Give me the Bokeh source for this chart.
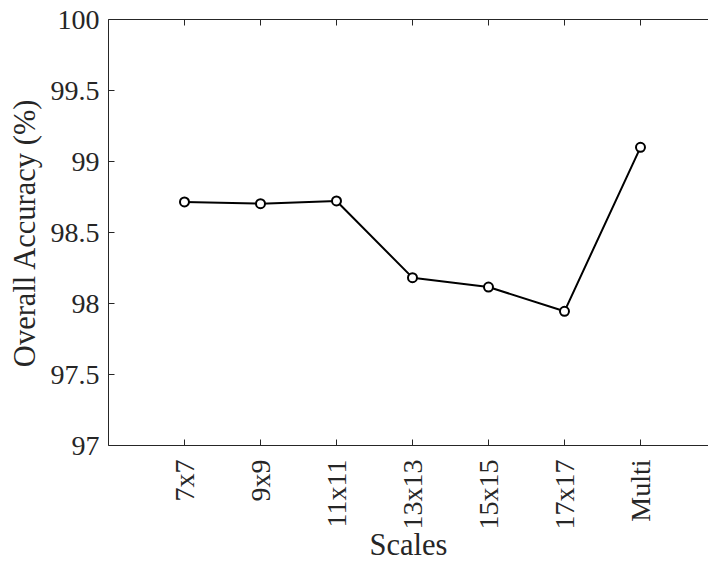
import math

from bokeh.embed import file_html
from bokeh.models import (CustomJSTickFormatter, FixedTicker, LinearAxis,
                          Range1d)
from bokeh.plotting import figure
from bokeh.resources import INLINE

# Overall accuracy for each patch scale
scales = ["7x7", "9x9", "11x11", "13x13", "15x15", "17x17", "Multi"]
accuracy = [98.715, 98.703, 98.722, 98.182, 98.116, 97.945, 99.10]
y_ticks = [97, 97.5, 98, 98.5, 99, 99.5, 100]

x_pos = list(range(1, len(scales) + 1))

FONT = "Liberation Serif"
AX_COLOR = "#262626"

p = figure(
    width=708, height=564,
    output_backend="svg", toolbar_location=None,
    x_range=Range1d(0, 7.895), y_range=Range1d(97, 100),
    min_border_left=108, min_border_right=0,
    min_border_top=19, min_border_bottom=119,
)
p.outline_line_color = None
p.background_fill_color = "white"
p.border_fill_color = "white"
p.xgrid.grid_line_color = None
p.ygrid.grid_line_color = None

# bottom axis with scale names
xa = p.xaxis[0]
xa.ticker = FixedTicker(ticks=x_pos)
xa.major_label_overrides = {i: s for i, s in zip(x_pos, scales)}
xa.major_label_orientation = math.pi / 2
xa.major_label_standoff = 14
xa.minor_tick_line_color = None
xa.axis_label = "Scales"
xa.axis_label_standoff = -5

# left axis
ya = p.yaxis[0]
ya.ticker = FixedTicker(ticks=y_ticks)
ya.formatter = CustomJSTickFormatter(code="return tick.toString();")
ya.major_label_standoff = 9
ya.minor_tick_line_color = None
ya.axis_label = "Overall Accuracy (%)"
ya.axis_label_standoff = 6

# box top: ticks only
top = LinearAxis(ticker=FixedTicker(ticks=x_pos),
                 major_label_overrides={i: "" for i in x_pos},
                 major_label_standoff=0, minor_tick_line_color=None)
p.add_layout(top, "above")

for ax in (xa, ya, top):
    ax.axis_line_color = AX_COLOR
    ax.axis_line_width = 1
    ax.major_tick_line_color = AX_COLOR
    ax.major_tick_line_width = 1
    ax.major_tick_in = 6
    ax.major_tick_out = 0
    ax.major_label_text_font = FONT
    ax.major_label_text_font_size = "28px"
    ax.major_label_text_color = AX_COLOR
    ax.axis_label_text_font = FONT
    ax.axis_label_text_font_size = "30.5px"
    ax.axis_label_text_font_style = "normal"
    ax.axis_label_text_color = AX_COLOR

p.line(x_pos, accuracy, line_color="black", line_width=2)
p.scatter(x_pos, accuracy, marker="circle", size=9, line_color="black",
          line_width=2, fill_color="white")

open("out.html", "w").write(file_html(p, INLINE))
